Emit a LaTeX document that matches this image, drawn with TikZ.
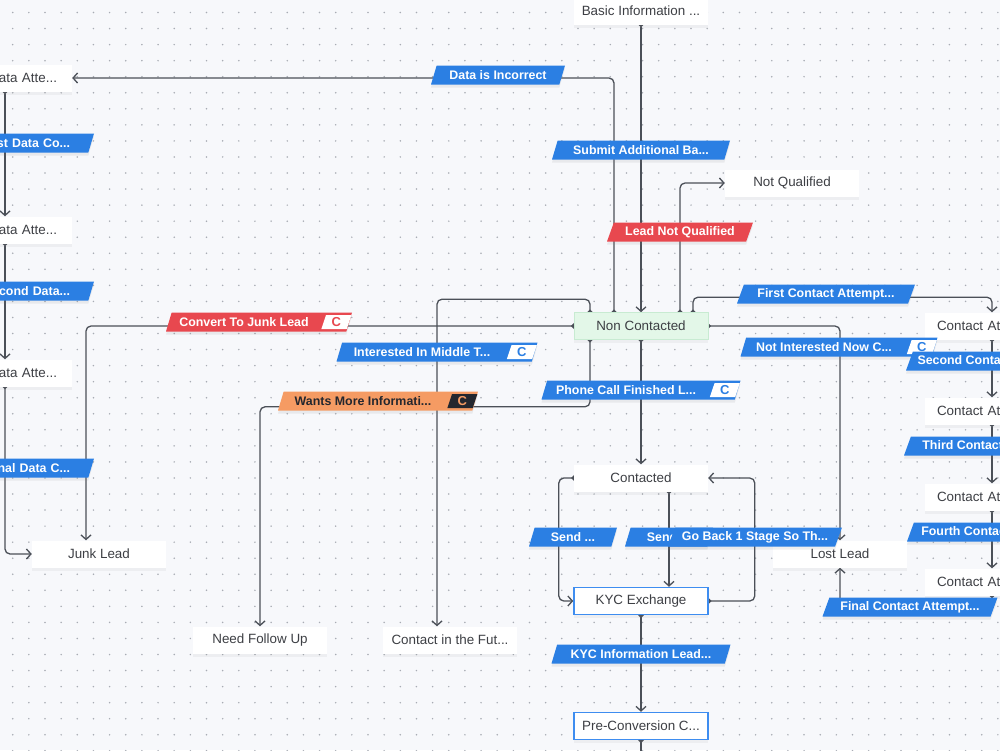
\documentclass[tikz,border=0pt]{standalone}
\usepackage{fontspec}
\setmainfont{Liberation Sans}
\usetikzlibrary{arrows.meta,shapes.geometric,shadows}
\definecolor{canvas}{HTML}{F7F8FB}
\definecolor{griddot}{HTML}{A8ACB4}
\definecolor{wire}{HTML}{4B5058}
\definecolor{boxtext}{HTML}{3D3F44}
\definecolor{tagblue}{HTML}{2B7FE3}
\definecolor{tagred}{HTML}{E8484F}
\definecolor{tagorange}{HTML}{F59B63}
\definecolor{tagdark}{HTML}{24272E}
\definecolor{ncgreen}{HTML}{E3F7E8}
\definecolor{ncborder}{HTML}{C8EBD2}
\definecolor{kycblue}{HTML}{3E8DF0}
\pgfdeclarelayer{grid}
\pgfdeclarelayer{edges}
\pgfsetlayers{grid,edges,main}
\tikzset{
  stage/.style    = {rectangle, fill=white, minimum width=134pt, minimum height=27pt,
                     font=\fontsize{13.4}{15}\selectfont, text=boxtext,
                     drop shadow={shadow xshift=0pt, shadow yshift=-3pt, opacity=.08}},
  ncstage/.style  = {stage, fill=ncgreen, draw=ncborder, line width=.6pt},
  kycstage/.style = {stage, draw=kycblue, line width=1.5pt},
  tag/.style      = {trapezium, trapezium left angle=63, trapezium right angle=117,
                     trapezium stretches body, fill=tagblue, text=white,
                     minimum height=19pt, inner xsep=2pt, inner ysep=1pt,
                     font=\bfseries\fontsize{12.4}{14}\selectfont,
                     drop shadow={shadow xshift=0pt, shadow yshift=-3pt, opacity=.12}},
  redtag/.style    = {tag, fill=tagred},
  orangetag/.style = {tag, fill=tagorange, text=tagdark},
  cbadge/.style    = {trapezium, trapezium left angle=63, trapezium right angle=117,
                      trapezium stretches body, fill=white, text=#1,
                      minimum height=14pt, minimum width=30pt, inner sep=0pt,
                      font=\bfseries\fontsize{13}{14}\selectfont},
  flow/.style     = {draw=wire, line width=1.3pt, rounded corners=5pt, shorten <=-2.5pt,
                     {Circle[length=5pt]}-{Straight Barb[length=4.5pt, width=10pt]}},
  flowout/.style  = {flow, {Circle[length=5pt]}-},
}

\begin{document}
\begin{tikzpicture}[x=1pt, y=-1pt]
  \useasboundingbox (0,0) rectangle (1000,750);
  \begin{pgfonlayer}{grid}
    \fill[canvas] (0,0) rectangle (1000,750);
    \foreach \i in {0,...,61}
      \foreach \j in {0,...,46}
        \fill[griddot] (12.7+16.15*\i, 12.5+16.05*\j) circle (0.85pt);
  \end{pgfonlayer}

  \node[stage]   (basic) at (641,11)  {Basic Information ...};
  \node[ncstage] (nc)    at (641,326) {Non Contacted};
  \node[stage]   (nq)    at (792,183) {Not Qualified};
  \node[stage]   (ct)    at (641,478) {Contacted};
  \node[kycstage] (kyc)  at (641,601) {KYC Exchange};
  \node[kycstage] (pre)  at (641,726) {Pre-Conversion C...};
  \node[stage]   (junk)  at (99,554)  {Junk Lead};
  \node[stage]   (lost)  at (840,554) {Lost Lead};
  \node[stage]   (nfu)   at (260,640) {Need Follow Up};
  \node[stage]   (cf)    at (450,640) {Contact in the Fut...};
  \node[stage, text width=104pt, align=right] (da1) at (5,78)  {Data Atte...};
  \node[stage, text width=104pt, align=right] (da2) at (5,230) {Data Atte...};
  \node[stage, text width=104pt, align=right] (da3) at (5,373) {Data Atte...};
  \node[stage, text width=110pt, align=left] (ca1) at (992,326) {Contact At...};
  \node[stage, text width=110pt, align=left] (ca2) at (992,411) {Contact At...};
  \node[stage, text width=110pt, align=left] (ca3) at (992,497) {Contact At...};
  \node[stage, text width=110pt, align=left] (ca4) at (992,582) {Contact At...};
  \coordinate (down) at (641,770);

  \begin{pgfonlayer}{edges}
    \draw[flow] (basic.south) -- (nc.north);
    \draw[flow] ([xshift=-27pt]nc.north) |- (da1.east);
    \draw[flow] ([xshift=39pt]nc.north) |- (nq.west);
    \draw[flow] ([xshift=52pt]nc.north) -- ++(0,-15) -| (ca1.north);
    \draw[flow] ([xshift=-51pt]nc.north) -- ++(0,-13) -| ([xshift=-13pt]cf.north);
    \draw[flow] (nc.west) -| ([xshift=-13pt]junk.north);
    \draw[flow] (nc.east) -| (lost.north);
    \draw[flow] ([xshift=-51pt]nc.south) -- ++(0,67) -| (nfu.north);
    \draw[flow] (nc.south) -- (ct.north);
    \draw[flow] (ct.west) -- ++(-15,0) |- (kyc.west);
    \draw[flow] ([xshift=28pt]ct.south) -- ([xshift=28pt]kyc.north);
    \draw[flow] (kyc.east) -- ++(46,0) |- (ct.east);
    \draw[flow] (kyc.south) -- (pre.north);
    \draw[flowout] (pre.south) -- (down);
    \draw[flow] (da1.south) -- (da2.north);
    \draw[flow] (da2.south) -- (da3.north);
    \draw[flow] (da3.south) |- (junk.west);
    \draw[flow] (ca1.south) -- (ca2.north);
    \draw[flow] (ca2.south) -- (ca3.north);
    \draw[flow] (ca3.south) -- (ca4.north);
    \draw[flow] (ca4.south) -- ++(0,11) -| (lost.south);
  \end{pgfonlayer}

  \node[tag, minimum width=134pt] (lIncorrect) at (498,75)  {Data is Incorrect};
  \node[tag, minimum width=178pt] (lSubmit)    at (641,150) {Submit Additional Ba...};
  \node[redtag, minimum width=146pt] (lNotQual) at (680,232) {Lead Not Qualified};
  \node[redtag, minimum width=186pt] (lJunk)   at (259,322) {Convert To Junk Lead\kern30pt};
  \node[cbadge=tagred] at ([xshift=-13pt]lJunk.east) {C};
  \node[tag, minimum width=201pt] (lMiddle)    at (437,352) {Interested In Middle T...\kern30pt};
  \node[cbadge=tagblue] at ([xshift=-13pt]lMiddle.east) {C};
  \node[orangetag, minimum width=200pt] (lMore) at (378,401) {Wants More Informati...\kern30pt};
  \node[cbadge=tagorange, fill=tagdark] at ([xshift=-13pt]lMore.east) {C};
  \node[tag, minimum width=199pt] (lPhone)     at (641,390) {Phone Call Finished L...\kern30pt};
  \node[cbadge=tagblue] at ([xshift=-13pt]lPhone.east) {C};
  \node[tag, minimum width=197pt] (lNotNow)    at (839,347) {Not Interested Now C...\kern30pt};
  \node[cbadge=tagblue] at ([xshift=-13pt]lNotNow.east) {C};
  \node[tag, minimum width=178pt] (lFirst)     at (826,294) {First Contact Attempt...};
  \node[tag, minimum width=178pt] (lSecond)    at (995,361) {Second Contact Attempt...};
  \node[tag, minimum width=178pt] (lThird)     at (993,446) {Third Contact Attempt...};
  \node[tag, minimum width=178pt] (lFourth)    at (996,532) {Fourth Contact Attempt...};
  \node[tag, minimum width=175pt] (lFinal)     at (910,607) {Final Contact Attempt...};
  \node[tag, minimum width=88pt]  (lSend1)     at (573,537) {Send ...};
  \node[tag, minimum width=88pt]  (lSend2)     at (669,537) {Send ...};
  \node[tag, minimum width=174pt] (lBack)      at (755,537) {Go Back 1 Stage So Th...};
  \node[tag, minimum width=179pt] (lKyc)       at (641,654) {KYC Information Lead...};
  \node[tag, minimum width=178pt, text width=130pt, align=right] (lData1) at (5,143) {First Data Co...};
  \node[tag, minimum width=178pt, text width=130pt, align=right] (lData2) at (5,291) {Second Data...};
  \node[tag, minimum width=178pt, text width=130pt, align=right] (lData3) at (5,468) {Final Data C...};
\end{tikzpicture}
\end{document}
